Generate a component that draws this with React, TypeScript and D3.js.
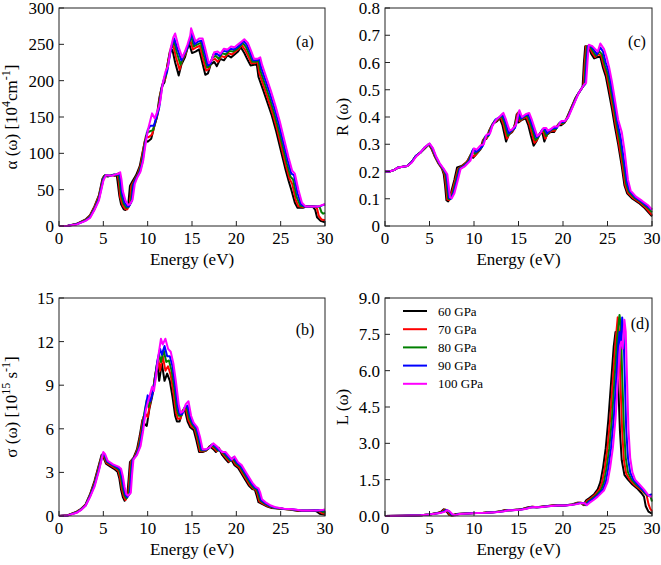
import React from "react";
import * as d3 from "d3";

type Pt = [number, number];

const seriesNames = ["60 GPa", "70 GPa", "80 GPa", "90 GPa", "100 GPa"];
const seriesColors = ["#000000", "#ff0000", "#008000", "#0000ff", "#ff00ff"];

const xTicks = [0, 5, 10, 15, 20, 25, 30];
const absTicks = [0, 50, 100, 150, 200, 250, 300];
const refTicks = [0, 0.1, 0.2, 0.3, 0.4, 0.5, 0.6, 0.7, 0.8];
const condTicks = [0, 3, 6, 9, 12, 15];
const lossTicks = [0, 1.5, 3, 4.5, 6, 7.5, 9];

// (a) absorption alpha(omega) [10^4 cm^-1]
const abs60: Pt[] = [[0,0],[1,0.5],[2,3],[3,9],[3.5,15],[4,27],[4.5,42],[4.9,65],[5.1,69],[5.5,68],[6,70],[6.3,69],[6.5,71],[6.6,62],[6.8,42],[7.0,30],[7.3,23],[7.5,22],[7.8,28],[8.0,55],[8.3,62],[8.7,70],[9.1,82],[9.4,100],[9.7,118],[10.0,116],[10.4,120],[10.7,135],[11.0,148],[11.3,175],[11.6,192],[11.9,198],[12.2,220],[12.5,240],[12.8,242],[13.1,225],[13.5,207],[13.8,222],[14.2,232],[14.5,245],[14.7,250],[15.0,238],[15.4,240],[15.8,243],[16.1,228],[16.5,208],[16.8,210],[17.1,222],[17.5,226],[17.8,220],[18.2,230],[18.6,228],[19.0,235],[19.4,232],[19.8,236],[20.2,240],[20.5,246],[20.9,238],[21.3,228],[21.6,221],[22.0,222],[22.3,223],[22.5,205],[23.0,188],[23.5,170],[24.0,152],[24.5,130],[25.0,105],[25.5,80],[25.9,62],[26.2,50],[26.6,32],[26.9,25],[27.5,25],[28.0,27],[28.6,27],[28.9,22],[29.1,12],[29.5,7],[30,5]];
const abs70: Pt[] = [[0,0],[1,0.4],[2,2.8],[3,8.5],[3.5,14],[4,26],[4.5,41],[5.0,67],[5.2,70],[5.6,69],[6.1,70],[6.4,70],[6.6,72],[6.75,60],[6.9,40],[7.2,28],[7.5,23],[7.7,23],[8.0,30],[8.15,55],[8.5,63],[8.9,72],[9.2,83],[9.5,105],[9.8,124],[10.1,122],[10.5,126],[10.8,140],[11.1,152],[11.4,180],[11.7,196],[12.0,203],[12.3,226],[12.6,244],[12.9,248],[13.2,232],[13.6,215],[13.9,228],[14.3,238],[14.6,250],[14.8,256],[15.1,243],[15.5,246],[15.9,248],[16.2,232],[16.6,214],[16.9,216],[17.2,228],[17.6,230],[17.9,226],[18.3,234],[18.7,232],[19.1,238],[19.5,236],[19.9,240],[20.3,244],[20.6,249],[21.0,242],[21.4,232],[21.7,224],[22.1,224],[22.4,226],[22.6,210],[23.1,192],[23.6,174],[24.1,155],[24.6,133],[25.1,108],[25.6,83],[26.0,65],[26.3,58],[26.7,36],[27.0,27],[27.5,26],[28.0,27],[28.8,27],[29.1,24],[29.3,14],[29.6,9],[30,8]];
const abs80: Pt[] = [[0,0],[1,0.4],[2,2.6],[3,8],[3.5,13],[4,24],[4.5,39],[5.0,66],[5.2,70],[5.7,69],[6.2,71],[6.5,70],[6.7,72],[6.85,60],[7.0,42],[7.3,30],[7.6,25],[7.8,26],[8.1,32],[8.3,56],[8.6,64],[9.0,73],[9.3,85],[9.6,108],[9.9,128],[10.2,130],[10.6,132],[10.9,145],[11.2,158],[11.5,185],[11.8,200],[12.1,208],[12.4,230],[12.7,248],[13.0,253],[13.3,238],[13.7,222],[14.0,232],[14.4,242],[14.7,254],[14.9,262],[15.2,247],[15.6,250],[16.0,252],[16.3,236],[16.7,218],[17.0,220],[17.3,232],[17.7,234],[18.0,230],[18.4,238],[18.8,236],[19.2,241],[19.6,240],[20.0,243],[20.4,247],[20.7,252],[21.1,246],[21.5,235],[21.8,226],[22.2,226],[22.5,228],[22.7,214],[23.2,196],[23.7,178],[24.2,158],[24.7,136],[25.2,111],[25.7,86],[26.1,68],[26.4,64],[26.8,40],[27.2,28],[27.6,27],[28.2,27],[29.0,27],[29.4,26],[29.6,19],[29.8,17],[30,18]];
const abs90: Pt[] = [[0,0],[1,0.3],[2,2.4],[3,7.5],[3.5,12],[4,23],[4.5,37],[5.0,64],[5.25,70],[5.8,69],[6.3,71],[6.6,71],[6.8,73],[6.95,62],[7.1,45],[7.4,32],[7.7,27],[7.9,27],[8.2,34],[8.4,57],[8.7,65],[9.1,74],[9.4,87],[9.7,112],[10.0,132],[10.3,138],[10.7,138],[11.0,150],[11.3,163],[11.6,190],[11.9,205],[12.2,213],[12.5,235],[12.8,252],[13.0,258],[13.4,242],[13.8,228],[14.1,236],[14.5,246],[14.8,258],[15.0,266],[15.3,250],[15.7,254],[16.1,255],[16.4,240],[16.8,221],[17.1,224],[17.4,236],[17.8,237],[18.1,234],[18.5,241],[18.9,240],[19.3,244],[19.7,243],[20.1,246],[20.5,250],[20.8,255],[21.2,249],[21.6,238],[21.9,228],[22.3,228],[22.6,230],[22.8,218],[23.3,200],[23.8,182],[24.3,162],[24.8,140],[25.3,115],[25.8,90],[26.2,72],[26.5,70],[26.9,45],[27.3,30],[27.7,27],[28.4,27],[29.2,27],[29.6,28],[30,30]];
const abs100: Pt[] = [[0,0],[1,0.3],[2,2.2],[3,7],[3.5,11],[4,22],[4.5,35],[5.0,62],[5.3,70],[5.9,69],[6.4,71],[6.7,72],[6.9,74],[7.05,64],[7.2,48],[7.5,35],[7.8,29],[8.0,30],[8.3,36],[8.55,58],[8.8,66],[9.2,75],[9.5,90],[9.8,116],[10.1,136],[10.5,155],[10.8,148],[11.1,158],[11.4,170],[11.7,196],[12.0,212],[12.3,220],[12.6,245],[12.9,260],[13.1,265],[13.5,246],[13.9,232],[14.2,240],[14.5,250],[14.8,262],[14.9,272],[15.4,254],[15.8,258],[16.2,258],[16.5,244],[16.9,224],[17.2,228],[17.5,239],[17.9,240],[18.2,237],[18.6,244],[19.0,243],[19.4,247],[19.8,246],[20.2,250],[20.6,254],[20.9,257],[21.3,252],[21.7,240],[22.0,230],[22.4,230],[22.7,232],[22.9,222],[23.4,204],[23.9,186],[24.4,166],[24.9,144],[25.4,119],[25.9,94],[26.3,76],[26.6,72],[27.0,50],[27.4,32],[27.8,27],[28.5,27],[29.3,27],[29.7,29],[30,30]];

// (c) reflectivity R(omega)
const ref60: Pt[] = [[0,0.2],[0.5,0.2],[1,0.205],[1.5,0.215],[2.5,0.22],[3,0.235],[3.5,0.258],[4,0.27],[4.5,0.285],[4.9,0.3],[5.2,0.285],[5.6,0.255],[6.0,0.23],[6.4,0.21],[6.6,0.19],[6.75,0.15],[6.9,0.095],[7.1,0.09],[7.4,0.12],[7.8,0.17],[8.1,0.215],[8.6,0.22],[9.2,0.235],[9.6,0.26],[9.9,0.25],[10.3,0.265],[10.7,0.28],[11.0,0.315],[11.4,0.32],[11.7,0.35],[12.1,0.375],[12.6,0.385],[12.9,0.395],[13.2,0.37],[13.6,0.31],[13.9,0.335],[14.3,0.345],[14.6,0.375],[14.8,0.41],[15.0,0.38],[15.4,0.39],[15.8,0.395],[16.1,0.37],[16.4,0.33],[16.7,0.295],[17.0,0.31],[17.4,0.34],[17.7,0.34],[17.9,0.31],[18.2,0.335],[18.6,0.345],[19.0,0.345],[19.4,0.37],[19.8,0.37],[20.2,0.38],[20.6,0.41],[21.0,0.44],[21.4,0.47],[21.8,0.49],[22.0,0.5],[22.2,0.51],[22.35,0.6],[22.5,0.66],[22.9,0.655],[23.2,0.63],[23.5,0.615],[23.9,0.62],[24.2,0.62],[24.5,0.58],[24.8,0.55],[25.1,0.5],[25.5,0.43],[25.8,0.37],[26.2,0.3],[26.6,0.22],[26.9,0.15],[27.2,0.12],[27.8,0.1],[28.5,0.085],[29.2,0.065],[30,0.035]];
const ref70: Pt[] = [[0,0.2],[0.5,0.2],[1,0.205],[1.5,0.215],[2.5,0.22],[3,0.235],[3.5,0.258],[4,0.27],[4.5,0.287],[4.95,0.3],[5.25,0.285],[5.6,0.255],[6.0,0.23],[6.45,0.21],[6.7,0.19],[6.85,0.15],[7.0,0.097],[7.2,0.095],[7.5,0.12],[7.9,0.17],[8.2,0.21],[8.7,0.22],[9.3,0.24],[9.7,0.265],[10.0,0.255],[10.4,0.27],[10.8,0.285],[11.1,0.32],[11.5,0.325],[11.8,0.355],[12.2,0.38],[12.7,0.39],[13.0,0.4],[13.3,0.375],[13.7,0.32],[14.0,0.34],[14.4,0.35],[14.7,0.38],[14.9,0.415],[15.1,0.385],[15.5,0.395],[15.9,0.4],[16.2,0.375],[16.5,0.34],[16.8,0.305],[17.1,0.318],[17.5,0.345],[17.8,0.345],[18.0,0.32],[18.3,0.34],[18.7,0.35],[19.1,0.35],[19.5,0.375],[19.9,0.375],[20.3,0.385],[20.7,0.415],[21.1,0.445],[21.5,0.475],[21.9,0.495],[22.1,0.505],[22.3,0.515],[22.45,0.6],[22.6,0.66],[23.0,0.655],[23.3,0.635],[23.6,0.62],[24.0,0.63],[24.3,0.625],[24.6,0.585],[24.9,0.555],[25.2,0.505],[25.6,0.435],[25.9,0.375],[26.3,0.3],[26.7,0.22],[27.0,0.15],[27.3,0.122],[27.9,0.102],[28.6,0.087],[29.3,0.067],[30,0.04]];
const ref80: Pt[] = [[0,0.2],[0.5,0.2],[1,0.205],[1.5,0.215],[2.5,0.22],[3,0.235],[3.5,0.258],[4,0.27],[4.5,0.288],[5.0,0.3],[5.3,0.285],[5.65,0.255],[6.05,0.23],[6.5,0.21],[6.8,0.19],[6.95,0.15],[7.1,0.1],[7.3,0.098],[7.6,0.12],[8.0,0.17],[8.3,0.21],[8.8,0.22],[9.4,0.24],[9.8,0.275],[10.1,0.265],[10.5,0.275],[10.9,0.29],[11.2,0.325],[11.6,0.33],[11.9,0.36],[12.3,0.385],[12.8,0.395],[13.1,0.405],[13.4,0.38],[13.8,0.33],[14.1,0.345],[14.5,0.355],[14.8,0.385],[15.0,0.418],[15.2,0.39],[15.6,0.4],[16.0,0.405],[16.3,0.38],[16.6,0.35],[16.9,0.315],[17.2,0.325],[17.6,0.35],[17.9,0.35],[18.1,0.33],[18.4,0.345],[18.8,0.355],[19.2,0.355],[19.6,0.378],[20.0,0.378],[20.4,0.39],[20.8,0.42],[21.2,0.45],[21.6,0.48],[22.0,0.5],[22.2,0.51],[22.4,0.518],[22.55,0.6],[22.7,0.66],[23.1,0.655],[23.4,0.64],[23.7,0.625],[24.1,0.64],[24.4,0.63],[24.7,0.59],[25.0,0.56],[25.3,0.51],[25.7,0.44],[26.0,0.38],[26.4,0.31],[26.8,0.225],[27.1,0.155],[27.4,0.125],[28.0,0.104],[28.7,0.089],[29.4,0.07],[30,0.05]];
const ref90: Pt[] = [[0,0.2],[0.5,0.2],[1,0.205],[1.5,0.215],[2.5,0.22],[3,0.235],[3.5,0.258],[4,0.27],[4.5,0.29],[5.0,0.302],[5.35,0.285],[5.7,0.255],[6.1,0.23],[6.55,0.21],[6.9,0.19],[7.05,0.15],[7.2,0.103],[7.4,0.1],[7.7,0.12],[8.1,0.17],[8.4,0.21],[8.9,0.22],[9.5,0.24],[9.9,0.282],[10.2,0.272],[10.6,0.28],[11.0,0.295],[11.3,0.33],[11.7,0.335],[12.0,0.365],[12.4,0.39],[12.9,0.4],[13.2,0.41],[13.5,0.385],[13.9,0.34],[14.2,0.35],[14.6,0.36],[14.9,0.39],[15.1,0.42],[15.3,0.395],[15.7,0.405],[16.1,0.41],[16.4,0.385],[16.7,0.355],[17.0,0.325],[17.3,0.332],[17.7,0.355],[18.0,0.355],[18.2,0.34],[18.5,0.35],[18.9,0.36],[19.3,0.36],[19.7,0.382],[20.1,0.382],[20.5,0.395],[20.9,0.425],[21.3,0.455],[21.7,0.485],[22.1,0.505],[22.3,0.515],[22.5,0.52],[22.65,0.6],[22.8,0.66],[23.2,0.66],[23.5,0.645],[23.8,0.63],[24.2,0.655],[24.5,0.64],[24.8,0.6],[25.1,0.57],[25.4,0.52],[25.8,0.445],[26.1,0.385],[26.5,0.32],[26.9,0.23],[27.2,0.16],[27.5,0.128],[28.1,0.106],[28.8,0.09],[29.5,0.072],[30,0.06]];
const ref100: Pt[] = [[0,0.2],[0.5,0.2],[1,0.205],[1.5,0.215],[2.5,0.22],[3,0.232],[3.5,0.255],[4,0.27],[4.5,0.29],[5.0,0.303],[5.4,0.285],[5.75,0.255],[6.15,0.23],[6.6,0.21],[7.0,0.19],[7.15,0.15],[7.3,0.105],[7.5,0.102],[7.8,0.12],[8.2,0.17],[8.5,0.21],[9.0,0.22],[9.6,0.24],[10.0,0.285],[10.3,0.28],[10.7,0.295],[11.1,0.3],[11.4,0.335],[11.8,0.34],[12.1,0.37],[12.5,0.39],[13.0,0.405],[13.3,0.415],[13.6,0.39],[14.0,0.35],[14.3,0.355],[14.7,0.37],[14.9,0.4],[15.1,0.425],[15.4,0.4],[15.8,0.41],[16.2,0.415],[16.5,0.39],[16.8,0.36],[17.1,0.33],[17.4,0.338],[17.8,0.36],[18.1,0.36],[18.3,0.35],[18.6,0.355],[19.0,0.365],[19.4,0.365],[19.8,0.385],[20.2,0.385],[20.6,0.4],[21.0,0.43],[21.4,0.46],[21.8,0.49],[22.2,0.51],[22.4,0.52],[22.6,0.525],[22.75,0.6],[22.9,0.665],[23.3,0.66],[23.6,0.65],[23.9,0.64],[24.2,0.67],[24.6,0.65],[24.9,0.62],[25.2,0.58],[25.5,0.53],[25.9,0.45],[26.2,0.39],[26.6,0.345],[26.9,0.28],[27.3,0.17],[27.6,0.13],[28.2,0.108],[28.9,0.092],[29.6,0.075],[30,0.06]];

// (b) optical conductivity sigma(omega) [10^15 s^-1]
const cond60: Pt[] = [[0,0],[1,0.05],[2,0.3],[2.5,0.5],[3,0.8],[3.5,1.5],[4,2.4],[4.4,3.3],[4.8,4.2],[5.0,4.05],[5.3,3.6],[5.8,3.4],[6.3,3.2],[6.6,3.05],[6.8,2.6],[7.0,1.8],[7.2,1.3],[7.4,1.05],[7.7,1.4],[7.85,2.5],[8.0,3.7],[8.4,4.0],[8.8,4.6],[9.1,5.5],[9.4,6.6],[9.7,6.3],[9.9,6.2],[10.2,7.4],[10.5,8.2],[10.8,9.5],[11.1,10.4],[11.3,9.3],[11.6,10.5],[11.9,9.3],[12.2,9.8],[12.5,9.3],[12.8,8.2],[13.1,6.9],[13.3,6.5],[13.6,6.5],[13.9,7.2],[14.2,7.3],[14.5,6.5],[14.8,6.1],[15.2,5.9],[15.5,5.2],[15.8,4.4],[16.2,4.4],[16.6,4.5],[17.0,4.8],[17.4,4.6],[17.7,4.4],[18.0,4.7],[18.4,4.2],[18.8,3.9],[19.1,3.7],[19.4,3.9],[19.8,3.5],[20.2,3.3],[20.6,2.9],[21.0,2.5],[21.4,2.1],[21.8,1.85],[22.1,1.8],[22.3,1.4],[22.5,0.95],[23.0,0.8],[23.5,0.65],[24,0.55],[25,0.5],[26,0.45],[27,0.35],[28,0.35],[28.8,0.38],[29.1,0.3],[29.4,0.15],[30,0.08]];
const cond70: Pt[] = [[0,0],[1,0.05],[2,0.28],[2.5,0.48],[3,0.78],[3.5,1.45],[4,2.3],[4.4,3.2],[4.85,4.2],[5.05,4.1],[5.35,3.65],[5.9,3.45],[6.4,3.25],[6.7,3.1],[6.9,2.6],[7.1,1.85],[7.3,1.35],[7.5,1.1],[7.8,1.45],[7.95,2.6],[8.1,3.75],[8.5,4.05],[8.9,4.65],[9.2,5.6],[9.5,6.8],[9.8,7.0],[10.0,6.8],[10.3,7.8],[10.6,8.6],[10.9,9.9],[11.2,10.8],[11.4,10.0],[11.7,11.0],[12.0,10.0],[12.3,10.3],[12.6,9.7],[12.9,8.5],[13.2,7.1],[13.4,6.7],[13.7,6.7],[14.0,7.3],[14.3,7.4],[14.6,6.6],[14.9,6.2],[15.3,6.0],[15.6,5.3],[15.9,4.45],[16.3,4.45],[16.7,4.55],[17.1,4.85],[17.5,4.65],[17.8,4.45],[18.1,4.6],[18.5,4.25],[18.9,3.95],[19.2,3.75],[19.5,3.95],[19.9,3.55],[20.3,3.35],[20.7,2.95],[21.1,2.55],[21.5,2.15],[21.9,1.88],[22.2,1.82],[22.4,1.45],[22.6,1.0],[23.1,0.82],[23.6,0.66],[24.1,0.56],[25.1,0.5],[26.1,0.45],[27.1,0.36],[28.1,0.36],[29.1,0.38],[29.4,0.3],[29.7,0.18],[30,0.15]];
const cond80: Pt[] = [[0,0],[1,0.04],[2,0.26],[2.5,0.46],[3,0.75],[3.5,1.4],[4,2.2],[4.45,3.2],[4.9,4.25],[5.1,4.15],[5.4,3.7],[6.0,3.5],[6.5,3.3],[6.8,3.15],[7.0,2.65],[7.2,1.9],[7.4,1.4],[7.6,1.2],[7.9,1.5],[8.05,2.7],[8.2,3.8],[8.6,4.1],[9.0,4.7],[9.3,5.7],[9.6,7.0],[9.9,8.0],[10.1,7.5],[10.4,8.1],[10.7,8.9],[11.0,10.3],[11.3,11.1],[11.5,10.6],[11.8,11.4],[12.1,10.6],[12.4,10.7],[12.7,10.0],[13.0,8.8],[13.3,7.3],[13.5,6.9],[13.8,6.9],[14.1,7.4],[14.4,7.5],[14.7,6.7],[15.0,6.3],[15.4,6.0],[15.7,5.35],[16.0,4.5],[16.4,4.5],[16.8,4.6],[17.2,4.9],[17.6,4.7],[17.9,4.5],[18.2,4.5],[18.6,4.3],[19.0,4.0],[19.3,3.8],[19.6,4.0],[20.0,3.6],[20.4,3.4],[20.8,3.0],[21.2,2.6],[21.6,2.2],[22.0,1.9],[22.3,1.85],[22.5,1.5],[22.7,1.05],[23.2,0.85],[23.7,0.68],[24.2,0.57],[25.2,0.5],[26.2,0.45],[27.2,0.37],[28.2,0.37],[29.2,0.38],[29.6,0.33],[29.8,0.25],[30,0.3]];
const cond90: Pt[] = [[0,0],[1,0.04],[2,0.24],[2.5,0.44],[3,0.72],[3.5,1.35],[4,2.1],[4.5,3.2],[4.95,4.3],[5.15,4.2],[5.45,3.75],[6.05,3.52],[6.6,3.35],[6.9,3.2],[7.1,2.7],[7.3,1.95],[7.5,1.45],[7.7,1.3],[8.0,1.55],[8.15,2.8],[8.3,3.85],[8.7,4.15],[9.1,4.75],[9.4,5.8],[9.7,7.2],[10.0,8.3],[10.3,7.9],[10.5,8.3],[10.8,9.2],[11.1,10.7],[11.4,11.5],[11.6,11.1],[11.9,11.7],[12.2,11.0],[12.5,11.0],[12.8,10.3],[13.1,9.0],[13.4,7.5],[13.6,7.0],[13.9,7.0],[14.2,7.5],[14.5,7.6],[14.8,6.8],[15.1,6.35],[15.5,6.05],[15.8,5.4],[16.1,4.55],[16.5,4.55],[16.9,4.65],[17.3,4.95],[17.7,4.75],[18.0,4.55],[18.3,4.45],[18.7,4.35],[19.1,4.05],[19.4,3.85],[19.7,4.05],[20.1,3.65],[20.5,3.45],[20.9,3.05],[21.3,2.65],[21.7,2.25],[22.1,1.95],[22.4,1.88],[22.6,1.55],[22.8,1.1],[23.3,0.87],[23.8,0.7],[24.3,0.58],[25.3,0.5],[26.3,0.46],[27.3,0.38],[28.3,0.38],[29.3,0.4],[29.7,0.38],[30,0.42]];
const cond100: Pt[] = [[0,0],[1,0.03],[2,0.22],[2.5,0.42],[3,0.7],[3.5,1.3],[4,2.0],[4.5,3.1],[5.0,4.4],[5.2,4.25],[5.5,3.8],[6.1,3.55],[6.7,3.4],[7.0,3.25],[7.2,2.75],[7.4,2.0],[7.6,1.5],[7.8,1.4],[8.1,1.6],[8.25,2.9],[8.4,3.9],[8.8,4.2],[9.2,4.8],[9.5,5.9],[9.8,7.3],[10.1,8.0],[10.5,8.9],[10.7,8.6],[10.9,9.4],[11.2,11.0],[11.5,12.2],[11.7,11.8],[12.0,12.2],[12.3,11.5],[12.6,11.3],[12.9,10.5],[13.2,9.2],[13.5,7.7],[13.7,7.1],[14.0,7.2],[14.3,7.7],[14.6,7.9],[14.9,6.9],[15.2,6.4],[15.6,6.1],[15.9,5.45],[16.2,4.6],[16.6,4.6],[17.0,4.7],[17.4,5.0],[17.8,4.8],[18.1,4.6],[18.4,4.4],[18.8,4.4],[19.2,4.1],[19.5,3.9],[19.8,4.1],[20.2,3.7],[20.6,3.5],[21.0,3.1],[21.4,2.7],[21.8,2.3],[22.2,2.0],[22.5,1.9],[22.7,1.6],[22.9,1.15],[23.4,0.9],[23.9,0.72],[24.4,0.6],[25.4,0.5],[26.4,0.47],[27.4,0.38],[28.4,0.38],[29.4,0.4],[29.8,0.43],[30,0.45]];

// (d) energy loss L(omega)
const loss60: Pt[] = [[0,0],[2,0.01],[4,0.03],[5,0.06],[5.8,0.12],[6.3,0.18],[6.6,0.28],[6.9,0.2],[7.2,0.05],[7.5,0.02],[8,0.08],[9,0.1],[10,0.12],[11,0.13],[12,0.15],[13,0.2],[13.5,0.25],[14,0.24],[15,0.27],[15.5,0.3],[16,0.35],[16.5,0.38],[17,0.36],[18,0.4],[19,0.44],[20,0.43],[21,0.48],[21.6,0.55],[22,0.55],[22.3,0.45],[22.6,0.65],[23,0.75],[23.5,0.9],[23.9,1.1],[24.2,1.4],[24.5,2.0],[24.8,2.8],[25.1,4.0],[25.4,5.5],[25.7,7.0],[25.9,7.6],[26.05,7.3],[26.2,5.5],[26.4,3.5],[26.6,2.3],[26.9,1.7],[27.3,1.5],[27.8,1.3],[28.3,1.15],[28.8,0.95],[29.1,0.8],[29.3,0.4],[29.6,0.18],[30,0.1]];
const loss70: Pt[] = [[0,0],[2,0.01],[4,0.03],[5,0.06],[5.9,0.12],[6.4,0.18],[6.7,0.27],[7.0,0.2],[7.3,0.05],[7.6,0.02],[8.1,0.08],[9.1,0.1],[10.1,0.12],[11.1,0.13],[12.1,0.15],[13.1,0.2],[13.6,0.25],[14.1,0.24],[15.1,0.27],[15.6,0.3],[16.1,0.35],[16.6,0.38],[17.1,0.36],[18.1,0.4],[19.1,0.44],[20.1,0.43],[21.1,0.48],[21.7,0.55],[22.1,0.55],[22.4,0.45],[22.7,0.63],[23.1,0.72],[23.6,0.88],[24.1,1.1],[24.4,1.4],[24.7,2.0],[25.0,2.8],[25.3,4.0],[25.6,5.6],[25.9,7.2],[26.15,8.2],[26.3,7.6],[26.45,5.6],[26.65,3.5],[26.85,2.3],[27.1,1.75],[27.5,1.5],[28.0,1.3],[28.5,1.15],[29.0,1.0],[29.4,0.85],[29.6,0.5],[29.8,0.3],[30,0.2]];
const loss80: Pt[] = [[0,0],[2,0.01],[4,0.03],[5,0.06],[6.0,0.12],[6.5,0.18],[6.8,0.26],[7.1,0.2],[7.4,0.06],[7.7,0.03],[8.2,0.08],[9.2,0.1],[10.2,0.12],[11.2,0.13],[12.2,0.15],[13.2,0.2],[13.7,0.24],[14.2,0.24],[15.2,0.27],[15.7,0.3],[16.2,0.35],[16.7,0.37],[17.2,0.36],[18.2,0.4],[19.2,0.43],[20.2,0.43],[21.2,0.48],[21.8,0.54],[22.2,0.54],[22.5,0.45],[22.8,0.6],[23.2,0.7],[23.7,0.85],[24.3,1.1],[24.6,1.4],[24.9,2.0],[25.2,2.8],[25.5,4.0],[25.8,5.7],[26.1,7.4],[26.35,8.3],[26.5,7.8],[26.65,5.8],[26.85,3.6],[27.05,2.4],[27.3,1.8],[27.7,1.5],[28.2,1.3],[28.7,1.15],[29.2,0.95],[29.5,0.85],[29.8,0.85],[30,0.6]];
const loss90: Pt[] = [[0,0],[2,0.01],[4,0.03],[5,0.06],[6.1,0.12],[6.6,0.18],[6.9,0.25],[7.2,0.19],[7.5,0.06],[7.8,0.03],[8.3,0.08],[9.3,0.1],[10.3,0.12],[11.3,0.13],[12.3,0.15],[13.3,0.2],[13.8,0.24],[14.3,0.24],[15.3,0.27],[15.8,0.3],[16.3,0.35],[16.8,0.37],[17.3,0.36],[18.3,0.4],[19.3,0.43],[20.3,0.43],[21.3,0.48],[21.9,0.54],[22.3,0.54],[22.6,0.45],[22.9,0.58],[23.3,0.68],[23.8,0.82],[24.5,1.1],[24.8,1.4],[25.1,2.0],[25.4,2.8],[25.7,4.0],[26.0,5.8],[26.2,7.0],[26.35,7.6],[26.5,7.0],[26.65,8.2],[26.8,7.6],[26.95,5.6],[27.1,3.6],[27.3,2.4],[27.55,1.8],[27.9,1.5],[28.4,1.3],[28.9,1.1],[29.3,0.95],[29.6,0.85],[30,0.9]];
const loss100: Pt[] = [[0,0],[2,0.01],[4,0.03],[5,0.06],[6.2,0.12],[6.7,0.17],[7.0,0.24],[7.3,0.18],[7.6,0.06],[7.9,0.03],[8.4,0.08],[9.4,0.1],[10.4,0.12],[11.4,0.13],[12.4,0.15],[13.4,0.2],[13.9,0.24],[14.4,0.24],[15.4,0.27],[15.9,0.3],[16.4,0.35],[16.9,0.37],[17.4,0.36],[18.4,0.4],[19.4,0.43],[20.4,0.43],[21.4,0.48],[22.0,0.53],[22.4,0.53],[22.7,0.45],[23.0,0.55],[23.4,0.65],[23.9,0.8],[24.6,1.05],[25.0,1.4],[25.3,2.0],[25.6,2.8],[25.9,4.0],[26.2,5.8],[26.4,7.0],[26.55,7.2],[26.7,6.9],[26.9,8.1],[27.05,7.6],[27.2,5.6],[27.35,3.6],[27.55,2.4],[27.8,1.8],[28.1,1.5],[28.6,1.3],[29.1,1.1],[29.5,0.9],[29.8,0.8],[30,0.8]];

const FONT = "'Liberation Serif', 'Times New Roman', Times, serif";

interface PanelDef {
  left: number; right: number; top: number; bottom: number;
  yMax: number; yTicks: number[]; fmt: (v: number) => string;
  series: Pt[][]; tag: string; tagX: number; tagY: number;
  ylabel: "abs" | "ref" | "cond" | "loss"; ylabelX: number; legend: boolean;
}

const panels: PanelDef[] = [
  { left: 59, right: 325, top: 8, bottom: 226, yMax: 300, yTicks: absTicks, fmt: (v) => String(v),
    series: [abs60, abs70, abs80, abs90, abs100], tag: "(a)", tagX: 305, tagY: 47, ylabel: "abs", ylabelX: 17, legend: false },
  { left: 385, right: 652, top: 8, bottom: 226, yMax: 0.8, yTicks: refTicks, fmt: (v) => (v === 0 ? "0" : v.toFixed(1)),
    series: [ref60, ref70, ref80, ref90, ref100], tag: "(c)", tagX: 637, tagY: 47, ylabel: "ref", ylabelX: 348, legend: false },
  { left: 59, right: 325, top: 298, bottom: 516, yMax: 15, yTicks: condTicks, fmt: (v) => String(v),
    series: [cond60, cond70, cond80, cond90, cond100], tag: "(b)", tagX: 305, tagY: 335, ylabel: "cond", ylabelX: 17, legend: false },
  { left: 385, right: 652, top: 298, bottom: 516, yMax: 9, yTicks: lossTicks, fmt: (v) => v.toFixed(1),
    series: [loss60, loss70, loss80, loss90, loss100], tag: "(d)", tagX: 640, tagY: 329, ylabel: "loss", ylabelX: 348, legend: true },
];

function YLabel({ kind, x, y }: { kind: string; x: number; y: number }) {
  const common = { transform: `translate(${x},${y}) rotate(-90)`, textAnchor: "middle" as const, fontFamily: FONT, fontSize: 17, fill: "#000" };
  if (kind === "abs") {
    return (
      <text {...common}>
        <tspan>α (ω) [10</tspan>
        <tspan dy={-7} fontSize={12}>4</tspan>
        <tspan dy={7}>cm</tspan>
        <tspan dy={-7} fontSize={12}>-1</tspan>
        <tspan dy={7}>]</tspan>
      </text>
    );
  }
  if (kind === "cond") {
    return (
      <text {...common}>
        <tspan>σ (ω) [10</tspan>
        <tspan dy={-7} fontSize={12}>15</tspan>
        <tspan dy={7}> s</tspan>
        <tspan dy={-7} fontSize={12}>-1</tspan>
        <tspan dy={7}>]</tspan>
      </text>
    );
  }
  return <text {...common}>{kind === "ref" ? "R (ω)" : "L (ω)"}</text>;
}

function Panel({ p }: { p: PanelDef }) {
  const x = d3.scaleLinear().domain([0, 30]).range([p.left, p.right]);
  const y = d3.scaleLinear().domain([0, p.yMax]).range([p.bottom, p.top]);
  const line = d3.line<Pt>().x((d) => x(d[0])).y((d) => y(d[1]));
  const midY = (p.top + p.bottom) / 2;
  return (
    <g>
      {p.series.map((s, i) => (
        <path key={i} d={line(s) || ""} fill="none" stroke={seriesColors[i]} strokeWidth={2} strokeLinejoin="round" />
      ))}
      <rect x={p.left} y={p.top} width={p.right - p.left} height={p.bottom - p.top} fill="none" stroke="#222" strokeWidth={1} />
      {xTicks.map((t) => (
        <g key={"x" + t}>
          <line x1={x(t)} x2={x(t)} y1={p.bottom} y2={p.bottom - 5} stroke="#222" strokeWidth={1} />
          <text x={x(t)} y={p.bottom + 18} textAnchor="middle" fontFamily={FONT} fontSize={17} fill="#000">{t}</text>
        </g>
      ))}
      {p.yTicks.map((t) => (
        <g key={"y" + t}>
          <line x1={p.left} x2={p.left + 5} y1={y(t)} y2={y(t)} stroke="#222" strokeWidth={1} />
          <text x={p.left - 5} y={y(t) + 6} textAnchor="end" fontFamily={FONT} fontSize={17} fill="#000">{p.fmt(t)}</text>
        </g>
      ))}
      <text x={(p.left + p.right) / 2} y={p.bottom + 39} textAnchor="middle" fontFamily={FONT} fontSize={17} fill="#000">Energy (eV)</text>
      <YLabel kind={p.ylabel} x={p.ylabelX} y={midY} />
      <text x={p.tagX} y={p.tagY} textAnchor="middle" fontFamily={FONT} fontSize={16} fill="#000">{p.tag}</text>
      {p.legend && seriesNames.map((n, i) => (
        <g key={n}>
          <line x1={403} x2={427} y1={311 + i * 18.2} y2={311 + i * 18.2} stroke={seriesColors[i]} strokeWidth={2} />
          <text x={438} y={311 + i * 18.2 + 4.5} fontFamily={FONT} fontSize={13} fill="#000">{n}</text>
        </g>
      ))}
    </g>
  );
}

export default function App() {
  return (
    <svg width={661} height={565} style={{ position: "absolute", left: 0, top: 0, background: "#fff" }}>
      <rect width={661} height={565} fill="#fff" />
      {panels.map((p, i) => <Panel key={i} p={p} />)}
    </svg>
  );
}
